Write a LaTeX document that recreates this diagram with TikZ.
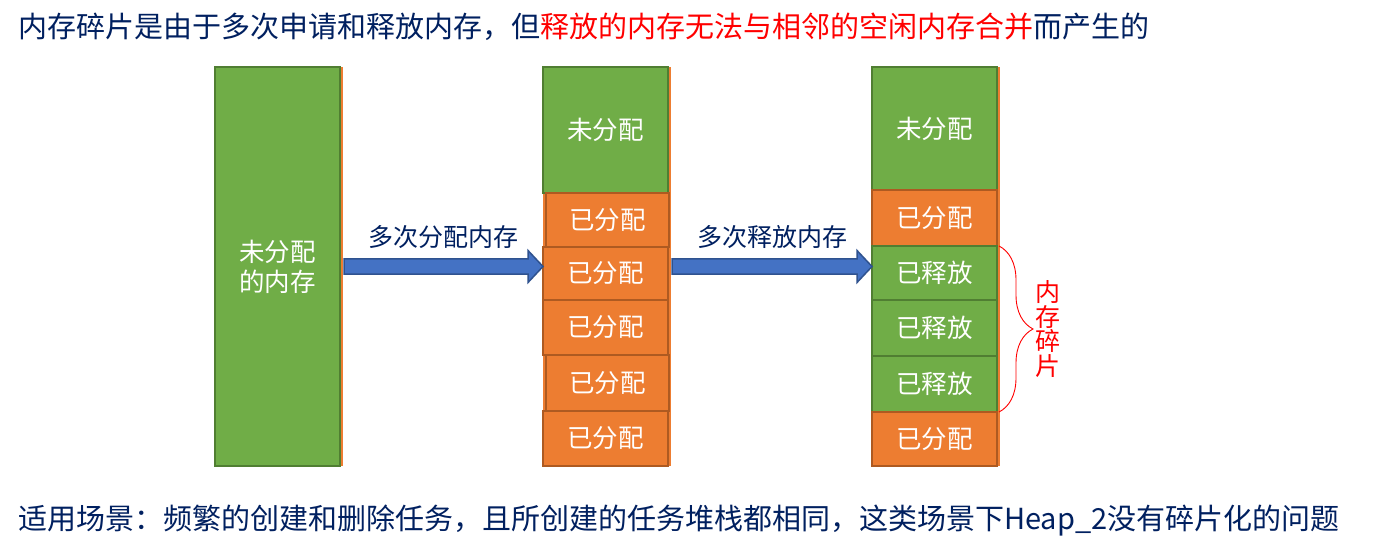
\documentclass[tikz,border=0pt]{standalone}
\usepackage{fontspec}
\setmainfont{Noto Sans CJK SC}
\usetikzlibrary{decorations.pathreplacing,calc}
\definecolor{gfill}{RGB}{112,173,71}
\definecolor{gline}{RGB}{80,126,50}
\definecolor{ofill}{RGB}{237,125,49}
\definecolor{oline}{RGB}{174,90,33}
\definecolor{afill}{RGB}{68,114,196}
\definecolor{aline}{RGB}{47,82,143}
\definecolor{navy}{RGB}{0,32,96}
\newcommand{\blockarr}[2]{%
  \draw[fill=afill, draw=aline, line width=1.5pt, line join=miter]
    ($(#1)+(0,-7.5)$) -- ($(#2)+(-15,-7.5)$) -- ($(#2)+(-15,-16)$) -- (#2)
    -- ($(#2)+(-15,16)$) -- ($(#2)+(-15,7.5)$) -- ($(#1)+(0,7.5)$) -- cycle;}
\begin{document}
\begin{tikzpicture}[x=1pt,y=-1pt,
  blk/.style={draw, line width=2pt, minimum width=125pt, inner sep=0pt, outer sep=0pt,
    text=white, font=\fontsize{25.5}{30}\selectfont, anchor=north west, align=center},
  gblk/.style={blk, fill=gfill, draw=gline},
  oblk/.style={blk, fill=ofill, draw=oline},
  strip/.style={fill=ofill, draw=none},
  lbl/.style={text=navy, font=\fontsize{25}{28}\selectfont, inner sep=0pt},
  bigtxt/.style={anchor=west, inner sep=0pt, font=\fontsize{29}{32}\selectfont}]
\useasboundingbox[fill=white] (0,0) rectangle (1387,556);

% title
\node[bigtxt] (title) at (18,27) {\color{navy}内存碎片是由于多次申请和释放内存，但\color{red}释放的内存无法与相邻的空闲内存合并\color{navy}而产生的};

% orange strips behind columns
\fill[strip] (218,67) rectangle (343,466);
\fill[strip] (543,67) rectangle (671,466);
\fill[strip] (872,67) rectangle (1000,466);

% column 1
\node[gblk, minimum height=399pt] (c1) at (215,67) {未分配\\的内存};

% column 2
\node[gblk, minimum height=126pt] (c2a) at (543,67) {未分配};
\node[oblk, minimum height=54pt, minimum width=123pt] (c2b) at (546,193) {已分配};
\node[oblk, minimum height=53pt] (c2c) at (543,247) {已分配};
\node[oblk, minimum height=55pt] (c2d) at (543,300) {已分配};
\node[oblk, minimum height=56pt, minimum width=123pt] (c2e) at (546,355) {已分配};
\node[oblk, minimum height=55pt] (c2f) at (543,411) {已分配};

% column 3
\node[gblk, minimum height=123pt] (c3a) at (872,67) {未分配};
\node[oblk, minimum height=56pt] (c3b) at (872,190) {已分配};
\node[gblk, minimum height=54pt] (c3c) at (872,246) {已释放};
\node[gblk, minimum height=56pt] (c3d) at (872,300) {已释放};
\node[gblk, minimum height=56pt] (c3e) at (872,356) {已释放};
\node[oblk, minimum height=54pt] (c3f) at (872,412) {已分配};

% arrows
\coordinate (s1) at ($(c1.east)+(4,0)$);
\coordinate (t1) at (s1 -| c2c.west);
\coordinate (s2) at ($(s1 -| c2c.east)+(4,0)$);
\coordinate (t2) at (s1 -| c3c.west);
\blockarr{s1}{t1}
\blockarr{s2}{t2}
\node[lbl] (l1) at ($(s1)!0.5!(t1)+(0,-29)$) {多次分配内存};
\node[lbl] (l2) at ($(s2)!0.5!(t2)+(0,-29)$) {多次释放内存};

% brace
\draw[red, line width=0.9pt, decorate, decoration={brace, amplitude=34pt}]
  ($(c3c.north east)+(2,0)$) -- ($(c3e.south east)+(2,0)$);
\node[text=red, font=\fontsize{25}{24.5}\selectfont, align=center, inner sep=0pt] (frag)
  at (1048,329) {内\\存\\碎\\片};

% bottom line
\node[bigtxt, text=navy] (foot) at (18,521) {适用场景：频繁的创建和删除任务，且所创建的任务堆栈都相同，这类场景下Heap\_2没有碎片化的问题};
\end{tikzpicture}
\end{document}
